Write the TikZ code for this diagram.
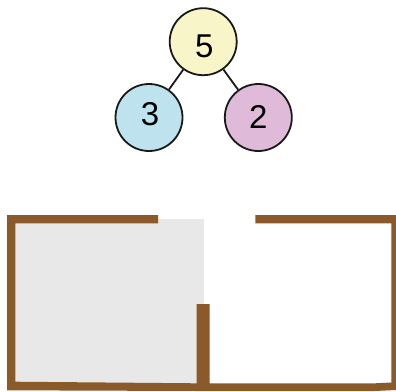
\documentclass[tikz,border=0pt]{standalone}
\usepackage{fontspec}
\setmainfont{Liberation Sans}
\definecolor{wallbrown}{HTML}{8B5A2B}
\definecolor{roomgray}{HTML}{E8E8E8}
\definecolor{numyellow}{HTML}{F8F5C8}
\definecolor{numblue}{HTML}{BEE2EE}
\definecolor{numpurple}{HTML}{DFBBD9}
\tikzset{
  numcircle/.style={circle,draw=black!90,line width=1.8pt,minimum size=67pt,inner sep=0pt,font=\fontsize{33}{33}\selectfont},
  link/.style={draw=black!90,line width=1.8pt},
  wall/.style={fill=wallbrown,draw=none}
}
\newcommand{\shiftdigit}[3]{\hspace*{#1}\raisebox{#2}[23pt][0pt]{#3}}
\begin{document}
\begin{tikzpicture}[x=1pt,y=-1pt]
\useasboundingbox (0,0) rectangle (396,391);
\fill[roomgray] (15,219) rectangle (203.5,384);
% walls
\path[wall] (7,215) -- (158,215) -- (158,223.3) -- (15.3,223.3) -- (15.3,381.7)
  -- (196.7,383.3) -- (196.7,304) -- (209.7,304) -- (209.7,383.3)
  -- (375,383.3) -- (391.3,382.5) -- (391.3,223.3) -- (255.3,223.3) -- (255.3,215)
  -- (396,215) -- (396,390) -- (375,391) -- (209.7,391) -- (196.7,391) -- (7,390.3) -- cycle;
% number bond
\node[numcircle,fill=numyellow] (top) at (203.2,41.7) {\shiftdigit{2pt}{-4pt}{5}};
\node[numcircle,fill=numblue] (left) at (149,117.5) {\shiftdigit{2pt}{4pt}{3}};
\node[numcircle,fill=numpurple] (right) at (258.3,117.5) {\shiftdigit{0pt}{1pt}{2}};
\draw[link] (top) -- (left);
\draw[link] (top) -- (right);
\end{tikzpicture}
\end{document}
